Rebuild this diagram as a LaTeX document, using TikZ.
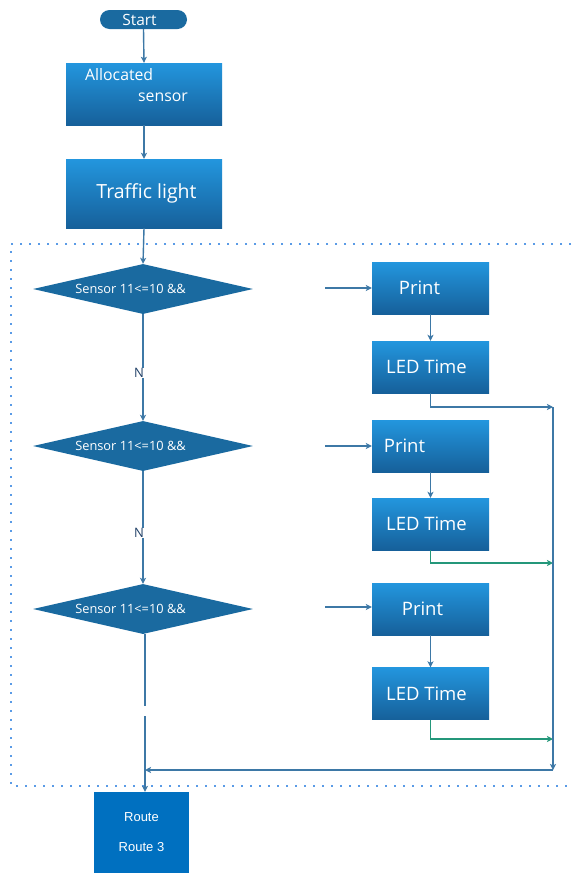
\documentclass[tikz,border=0pt]{standalone}
\usepackage{fontspec}
\setmainfont{Open Sans}
\newfontfamily\arialf{Liberation Sans}
\usetikzlibrary{arrows.meta,shapes.geometric}
\definecolor{boxtop}{HTML}{2396DE}
\definecolor{boxbot}{HTML}{16609A}
\definecolor{darkblue}{HTML}{1A6AA0}
\definecolor{conn}{HTML}{3D78A6}
\definecolor{greenconn}{HTML}{24977A}
\definecolor{dotc}{HTML}{5A9BE6}
\definecolor{routec}{HTML}{0070C0}
\definecolor{ntext}{HTML}{1F3F66}
\begin{document}
\begin{tikzpicture}[x=1pt,y=-1pt,
  gbox/.style={rectangle, top color=boxtop, bottom color=boxbot, draw=none,
    minimum width=117pt, minimum height=52pt, inner sep=0pt, text=white,
    font=\fontsize{18.5}{20}\selectfont},
  dec/.style={diamond, fill=darkblue, draw=none, aspect=4.4,
    minimum width=220pt, minimum height=50pt, inner sep=0pt, text=white,
    font=\fontsize{12.8}{14}\selectfont},
  conline/.style={draw=conn, line width=1.4pt},
  arr/.style={conline, -{Stealth[length=6pt,width=6pt,inset=1.5pt]}},
  garr/.style={draw=greenconn, line width=1.2pt, -{Stealth[length=6pt,width=6pt,inset=1.5pt]}},
  nlab/.style={text=ntext, font=\fontsize{13}{15}\selectfont, inner sep=0pt}
]
\useasboundingbox (0,0) rectangle (571,873);
\fill[white] (0,0) rectangle (571,873);

% dotted frame
\draw[dotc, line width=2pt, dash pattern=on 2pt off 7pt] (571,244) -- (11,244) -- (11,786) -- (571,786);

% top part
\node[rectangle, fill=darkblue, rounded corners=9.5pt, minimum width=87pt, minimum height=19pt,
  inner sep=0pt, text=white, font=\fontsize{15.5}{17}\selectfont] (start) at (143.5,19.5) {Start\hspace*{8pt}};
\node[gbox, minimum width=156pt, minimum height=62pt] (alloc) at (144,94) {};
\node[text=white, font=\fontsize{15.8}{17}\selectfont, inner sep=0pt, anchor=base west] (alloct1) at (85,80) {Allocated};
\node[text=white, font=\fontsize{15.8}{17}\selectfont, inner sep=0pt, anchor=base west] (alloct2) at (138,101) {sensor};
\node[gbox, minimum width=156pt, minimum height=69pt, font=\fontsize{19.5}{21}\selectfont] (traffic) at (144,193.5) {\hspace*{5pt}Traffic light};

% decisions
\node[dec] (d1) at (143,289) {Sensor 11<=10 \&\&\hspace*{25pt}};
\node[dec] (d2) at (143,446) {Sensor 11<=10 \&\&\hspace*{25pt}};
\node[dec] (d3) at (143,609) {Sensor 11<=10 \&\&\hspace*{25pt}};

% right boxes
\node[gbox] (p1) at (430.5,288) {Print\hspace*{22pt}};
\node[gbox] (l1) at (430.5,367) {LED Time\hspace*{8pt}};
\node[gbox] (p2) at (430.5,446) {Print\hspace*{52pt}};
\node[gbox] (l2) at (430.5,524) {LED Time\hspace*{8pt}};
\node[gbox] (p3) at (430.5,609) {Print\hspace*{16pt}};
\node[gbox] (l3) at (430.5,693.5) {LED Time\hspace*{8pt}};

% route
\node[rectangle, fill=routec, minimum width=95pt, minimum height=81pt, inner sep=0pt,
  text=white, align=center, font=\arialf\fontsize{13}{30}\selectfont] (route) at (141.5,832.5) {Route\\Route 3};

% coordinates
\coordinate (in1) at (325,288);
\coordinate (in2) at (325,446);
\coordinate (in3) at (325,607);
\coordinate (bustop) at (553,407);
\coordinate (busg2) at (553,563);
\coordinate (busg3) at (553,739);
\coordinate (busbot) at (553,770);
\coordinate (join) at (145,770);
\coordinate (gapA) at (145,706);
\coordinate (gapB) at (145,716);

% left chain
\draw[arr] (start.south) -- (alloc.north);
\draw[arr] (alloc.south) -- (traffic.north);
\draw[arr] (traffic.south) -- (d1.north);
\draw[arr] (d1.south) -- node[nlab, pos=0.55, xshift=-4pt, fill=white, inner sep=0.5pt] (n1) {N} (d2.north);
\draw[arr] (d2.south) -- node[nlab, pos=0.55, xshift=-4pt, fill=white, inner sep=0.5pt] (n2) {N} (d3.north);
\draw[conline] (d3.south -| gapA) -- (gapA);
\draw[arr] (gapB) -- (route.north -| gapB);

% right side
\draw[arr] (in1) -- (p1.west);
\draw[arr] (in2) -- (p2.west);
\draw[arr] (in3) -- (p3.west |- in3);
\draw[arr] (p1.south) -- (l1.north);
\draw[arr] (p2.south) -- (l2.north);
\draw[arr] (p3.south) -- (l3.north);
\draw[arr] (l1.south) |- (bustop);
\draw[garr] (l2.south) |- (busg2);
\draw[garr] (l3.south) |- (busg3);
\draw[arr] (bustop) -- (busbot);
\draw[arr] (busbot) -- (join);
\end{tikzpicture}
\end{document}
